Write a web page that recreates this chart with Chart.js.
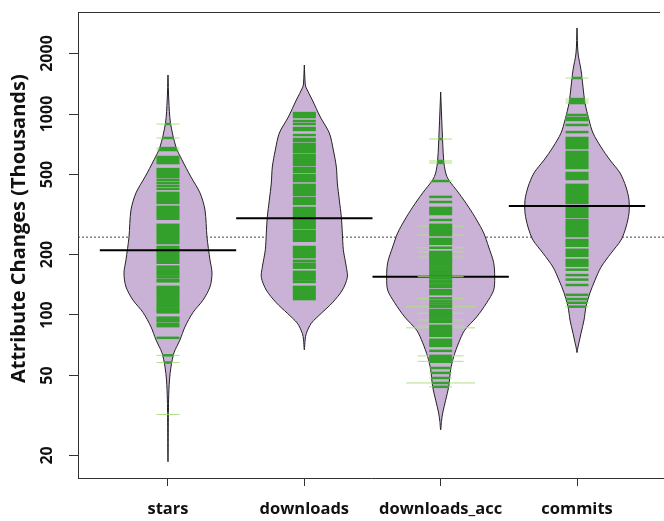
<!DOCTYPE html>
<html>
<head>
<meta charset="utf-8">
<script src="https://cdn.jsdelivr.net/npm/chart.js@4.4.1/dist/chart.umd.min.js"></script>
<style>
html,body{margin:0;padding:0;background:#fff;}
#wrap{width:664px;height:521px;position:relative;}
</style>
</head>
<body>
<div id="wrap"><canvas id="c" width="664" height="521"></canvas></div>
<script>
// ---------------- DATA ----------------
const categories = ['stars', 'downloads', 'downloads_acc', 'commits'];
const yTickValues = [20, 50, 100, 200, 500, 1000, 2000];
const yRange = [15.45, 3218];
const yTitle = 'Attribute Changes (Thousands)';
const overallAverage = 244;
const beanMedians = [210, 303, 155, 349];

// bean outlines: levels (thousands, top to bottom) and relative density (half-width)
const starsLevels  = [1563, 1174, 902, 685, 591, 486, 405, 333, 244, 188, 162, 138, 118.6, 103, 87.3, 75.2, 64.8, 55.2, 47.5, 37.8, 18.6];
const starsDensity = [0, 0.8, 2.5, 8, 14, 23, 32, 37, 39, 42, 44, 42, 35, 25, 17, 12, 6, 3, 1.5, 0.6, 0];

const downloadsLevels  = [1753, 1426, 1362, 1174, 966, 804, 662, 545, 454, 373, 307, 256, 211, 173, 154, 133, 115, 102, 91, 81, 75.2, 67];
const downloadsDensity = [0, 0.8, 1.5, 8, 16, 25, 29, 32, 33, 35, 37, 38, 39, 42, 43, 38, 28, 17, 7, 2, 0.8, 0];

const accLevels  = [1287, 832, 590, 509, 470, 405, 344, 297, 256, 218, 182, 154, 133, 115, 97.8, 84, 72.7, 62, 53.4, 43.9, 37.7, 32.5, 29.5, 26.8];
const accDensity = [0, 1.5, 3, 5, 8, 18, 28, 36, 43, 48, 53, 54, 53, 46, 36, 24, 18, 13, 10, 8, 5, 2, 0.8, 0];

const commitsLevels  = [2680, 2011, 1655, 1362, 1134, 934, 804, 685, 590, 509, 433, 373, 322, 274, 236, 203, 173, 149, 129, 110, 94.4, 81, 73, 68.6, 65];
const commitsDensity = [0, 1, 4, 6, 8, 12, 16, 24, 33, 43, 49, 52, 52, 49, 44, 34, 24, 18, 13, 9, 7, 4, 2, 0.8, 0];

// individual observations (bean lines)
const starsLines = [892, 760, 677, 662, 611, 597, 584, 570, 532, 520, 508, 497, 486, 470, 454, 439, 424,
  405, 396, 387, 378, 369, 361, 345, 337, 329, 322, 315, 308, 301, 281, 274, 268, 262, 256, 250, 244, 239,
  233, 228, 218, 213, 208, 204, 199, 195, 190, 186, 182, 174, 170, 166, 162, 159, 155, 150, 147, 138, 135,
  132, 129, 126, 123, 120, 117, 115, 112, 110, 107, 105, 103, 97, 95, 93, 90, 88, 77, 63, 58, 32];

const downloadsLines = [1011, 989, 966, 923, 892, 852, 833, 786, 751, 734, 709, 693, 677, 662, 647, 626,
  612, 598, 584, 571, 558, 539, 527, 515, 497, 486, 475, 464, 444, 434, 424, 415, 405, 396, 382, 373, 365,
  357, 341, 333, 326, 318, 311, 304, 297, 290, 284, 277, 271, 262, 256, 250, 245, 239, 234, 218, 213, 208,
  204, 199, 194, 186, 180, 176, 172, 164, 160, 156, 153, 150, 146, 138, 135, 132, 129, 126, 123, 120];

const accLines = [751, 584, 571, 464, 387, 365, 341, 333, 326, 318, 297, 281, 274, 268, 262, 256, 239, 236,
  231, 226, 203, 199, 194, 190, 186, 182, 178, 174, 170, 166, 162, 159, 155, 152, 148, 145, 141, 138, 133,
  130, 127, 117, 114, 111, 106, 104, 101, 99, 97, 94.5, 92.4, 84.3, 82.4, 80.6, 78.8, 75.3, 73.5, 71.8,
  70.2, 66.3, 61.2, 59.8, 58.5, 54.5, 51.5, 48.6, 43.9];
const accLinesDouble = [277, 250, 216, 206, 194, 155, 121, 102, 94.5, 88.3, 62.6, 58.8];
const accLinesTriple = [110, 86.3, 45.9];

const commitsLines = [1511, 1187, 1160, 1134, 989, 955, 934, 882, 813, 760, 743, 726, 709, 693, 677, 648,
  633, 619, 605, 591, 577, 564, 551, 539, 509, 497, 486, 475, 444, 434, 424, 415, 405, 396, 387, 378, 369,
  361, 345, 337, 329, 322, 315, 308, 297, 290, 284, 277, 271, 265, 259, 253, 247, 236, 231, 226, 221, 211,
  206, 201, 197, 188, 184, 180, 176, 168, 158, 150, 141, 126, 120, 115, 110];

// ---------------- STYLE ----------------
const DENSITY_TO_WIDTH = 1 / 136.3;   // category units per density unit
const LINE_HALF = 11.5;               // px, half length of a bean line
const MEDIAN_HALF = 0.5;              // category units
const X_MIN = 0.34, X_MAX = 4.638;
const FILL = '#CAB2D6', INSIDE = '#33A02C', OUTSIDE = '#B2DF8A';
const TXT = '#111';
const FONT = "'Open Sans', 'Noto Sans', 'DejaVu Sans', sans-serif";

const beans = [
  {levels: starsLevels, density: starsDensity, lines: starsLines},
  {levels: downloadsLevels, density: downloadsDensity, lines: downloadsLines},
  {levels: accLevels, density: accDensity, lines: accLines},
  {levels: commitsLevels, density: commitsDensity, lines: commitsLines}
];

function beanPolygon(i) {
  const c = i + 1, b = beans[i];
  const right = b.levels.map((v, k) => ({x: c + b.density[k] * DENSITY_TO_WIDTH, y: v}));
  const left = b.levels.map((v, k) => ({x: c - b.density[k] * DENSITY_TO_WIDTH, y: v})).reverse();
  return right.concat(left.slice(1));
}
function densityAt(i, v) {
  const b = beans[i], lv = Math.log10(v);
  for (let k = 0; k < b.levels.length - 1; k++) {
    const a = Math.log10(b.levels[k]), z = Math.log10(b.levels[k + 1]);
    if (lv <= a && lv >= z) {
      const t = (a - lv) / (a - z);
      return b.density[k] + t * (b.density[k + 1] - b.density[k]);
    }
  }
  return 0;
}
function insideRadius(i) {
  return (ctx) => {
    const xs = ctx.chart.scales.x;
    if (!ctx.raw) return 0;
    const w = densityAt(i, ctx.raw.y) * DENSITY_TO_WIDTH;
    const px = xs.getPixelForValue(i + 1 + w) - xs.getPixelForValue(i + 1);
    return Math.min(LINE_HALF, Math.max(0, px));
  };
}
const pts = (i, arr) => arr.map(v => ({x: i + 1, y: v}));

const datasets = [];
datasets.push({
  data: [{x: X_MIN, y: overallAverage}, {x: X_MAX, y: overallAverage}],
  showLine: true, borderColor: '#444', borderWidth: 1, borderDash: [2, 2],
  pointRadius: 0, order: 100
});
beans.forEach((b, i) => {
  datasets.push({
    data: beanPolygon(i), showLine: true, fill: 'shape', tension: 0.3,
    backgroundColor: FILL, borderColor: '#222', borderWidth: 1, pointRadius: 0, order: 90
  });
  datasets.push({
    data: pts(i, b.lines), showLine: false, pointStyle: 'line', pointRadius: LINE_HALF,
    pointBorderColor: OUTSIDE, pointBackgroundColor: OUTSIDE, pointBorderWidth: 1, order: 80
  });
  datasets.push({
    data: pts(i, b.lines), showLine: false, pointStyle: 'line', pointRadius: insideRadius(i),
    pointBorderColor: INSIDE, pointBackgroundColor: INSIDE, pointBorderWidth: 2.5, order: 70
  });
  datasets.push({
    data: [{x: i + 1 - MEDIAN_HALF, y: beanMedians[i]}, {x: i + 1 + MEDIAN_HALF, y: beanMedians[i]}],
    showLine: true, borderColor: '#000', borderWidth: 2, pointRadius: 0, order: 60
  });
});
// duplicated observations of downloads_acc (longer lines)
datasets.push({
  data: pts(2, accLinesDouble), showLine: false, pointStyle: 'line', pointRadius: LINE_HALF * 2,
  pointBorderColor: OUTSIDE, pointBackgroundColor: OUTSIDE, pointBorderWidth: 1, order: 50
});
datasets.push({
  data: pts(2, accLinesTriple), showLine: false, pointStyle: 'line', pointRadius: LINE_HALF * 3,
  pointBorderColor: OUTSIDE, pointBackgroundColor: OUTSIDE, pointBorderWidth: 1, order: 50
});
datasets.push({
  data: pts(2, accLinesDouble.concat(accLinesTriple)), showLine: false, pointStyle: 'line',
  pointRadius: insideRadius(2), pointBorderColor: INSIDE, pointBackgroundColor: INSIDE,
  pointBorderWidth: 2.5, order: 40
});

const framePlugin = {
  id: 'frame',
  afterDraw(chart) {
    const {ctx, chartArea: a} = chart;
    ctx.save();
    ctx.strokeStyle = '#333';
    ctx.lineWidth = 1;
    ctx.beginPath();
    ctx.moveTo(a.left, Math.round(a.top) + 0.5);
    ctx.lineTo(a.right - 4, Math.round(a.top) + 0.5);
    ctx.stroke();
    // y-axis title (R places it slightly above the plot centre here)
    ctx.fillStyle = TXT;
    ctx.font = "bold 20px " + FONT;
    ctx.textAlign = 'center';
    ctx.textBaseline = 'middle';
    ctx.translate(19, a.top + (a.bottom - a.top) * 0.465);
    ctx.rotate(-Math.PI / 2);
    ctx.fillText(yTitle, 0, 0);
    ctx.restore();
  }
};

new Chart(document.getElementById('c'), {
  type: 'scatter',
  data: {datasets},
  options: {
    responsive: false,
    animation: false,
    events: [],
    devicePixelRatio: 1,
    layout: {autoPadding: false, padding: {top: 12, right: 0, bottom: 0, left: 0}},
    plugins: {legend: {display: false}, tooltip: {enabled: false}},
    elements: {point: {hoverRadius: 0}},
    scales: {
      x: {
        type: 'linear', min: X_MIN, max: X_MAX,
        afterBuildTicks: s => { s.ticks = categories.map((_, i) => ({value: i + 1})); },
        afterFit: s => { s.height = 43; s.paddingLeft = 0; s.paddingRight = 0; },
        ticks: {
          autoSkip: false, maxRotation: 0, minRotation: 0, padding: 13, color: TXT,
          font: {family: FONT, weight: 'bold', size: 16.5},
          callback: v => categories[Math.round(v) - 1]
        },
        grid: {display: true, drawOnChartArea: false, drawTicks: true, tickLength: 8, color: '#333', lineWidth: 1},
        border: {display: true, color: '#333', width: 1}
      },
      y: {
        type: 'logarithmic', min: yRange[0], max: yRange[1],
        afterBuildTicks: s => { s.ticks = yTickValues.map(v => ({value: v})); },
        afterFit: s => { s.width = 78; s.paddingTop = 0; s.paddingBottom = 0; },
        ticks: {
          autoSkip: false, minRotation: 90, maxRotation: 90, crossAlign: 'center', padding: 3,
          color: TXT, font: {family: FONT, weight: 'bold', size: 16},
          callback: v => String(v)
        },
        grid: {display: true, drawOnChartArea: false, drawTicks: true, tickLength: 9, color: '#333', lineWidth: 1},
        border: {display: true, color: '#333', width: 1},
        title: {display: false}
      }
    }
  },
  plugins: [framePlugin]
});
</script>
</body>
</html>
